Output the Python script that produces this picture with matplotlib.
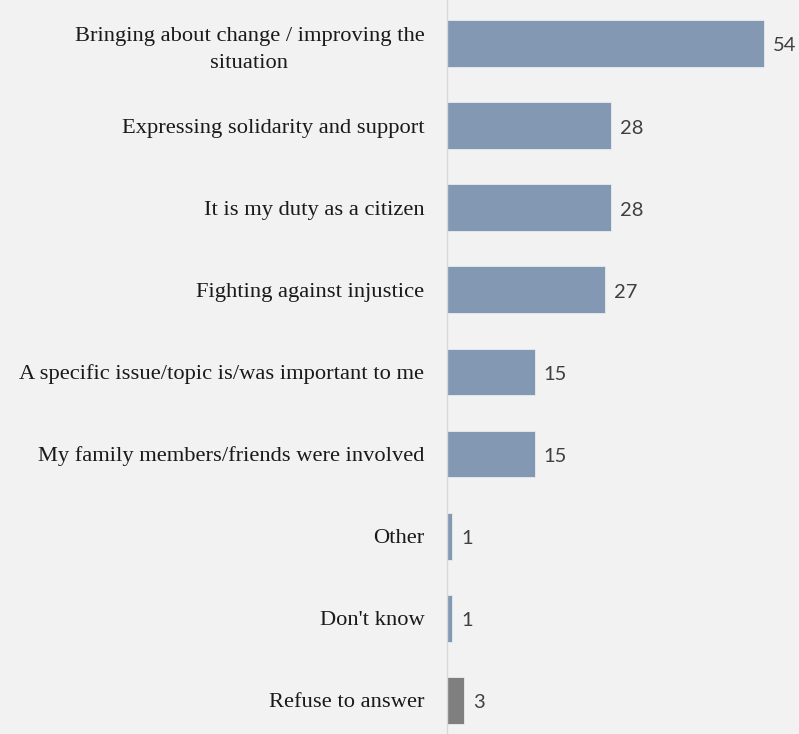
import matplotlib
matplotlib.use("Agg")
import matplotlib.pyplot as plt

categories = [
    "Bringing about change / improving the\nsituation",
    "Expressing solidarity and support",
    "It is my duty as a citizen",
    "Fighting against injustice",
    "A specific issue/topic is/was important to me",
    "My family members/friends were involved",
    "Other",
    "Don't know",
    "Refuse to answer",
]
values = [54, 28, 28, 27, 15, 15, 1, 1, 3]
colors = ["#8398b3"] * 8 + ["#7f7f7f"]

bg = "#f2f2f2"
fig = plt.figure(figsize=(7.99, 7.34), dpi=100, facecolor=bg)
ax = fig.add_axes([446.5 / 799, 0, 1 - 446.5 / 799, 1])
ax.set_facecolor(bg)

y = list(range(len(categories)))
ax.barh(y, values, height=0.57, color=colors, edgecolor="#e8ecf1", linewidth=0.6)

ax.set_xlim(0, 60)
ax.set_ylim(8.41, -0.53)

for yi, v in zip(y, values):
    ax.text(v + 1.5, yi + 0.03, str(v), va="center", ha="left",
            fontsize=14.5, color="#404040", family="Lato")

ax.set_yticks(y)
ax.set_yticklabels(categories, fontsize=16.2, family="Liberation Serif",
                   color="#1a1a1a", linespacing=1.6)
ax.tick_params(axis="y", length=0, pad=16)
ax.set_xticks([])

for s in ["top", "right", "bottom"]:
    ax.spines[s].set_visible(False)
ax.spines["left"].set_color("#d9d9d9")
ax.spines["left"].set_linewidth(1.0)

# right-aligned labels, multi-line text centered within its block
for lbl in ax.get_yticklabels():
    lbl.set_horizontalalignment("right")
    lbl.set_multialignment("center")

fig.savefig("out.png", dpi=100, facecolor=bg)
